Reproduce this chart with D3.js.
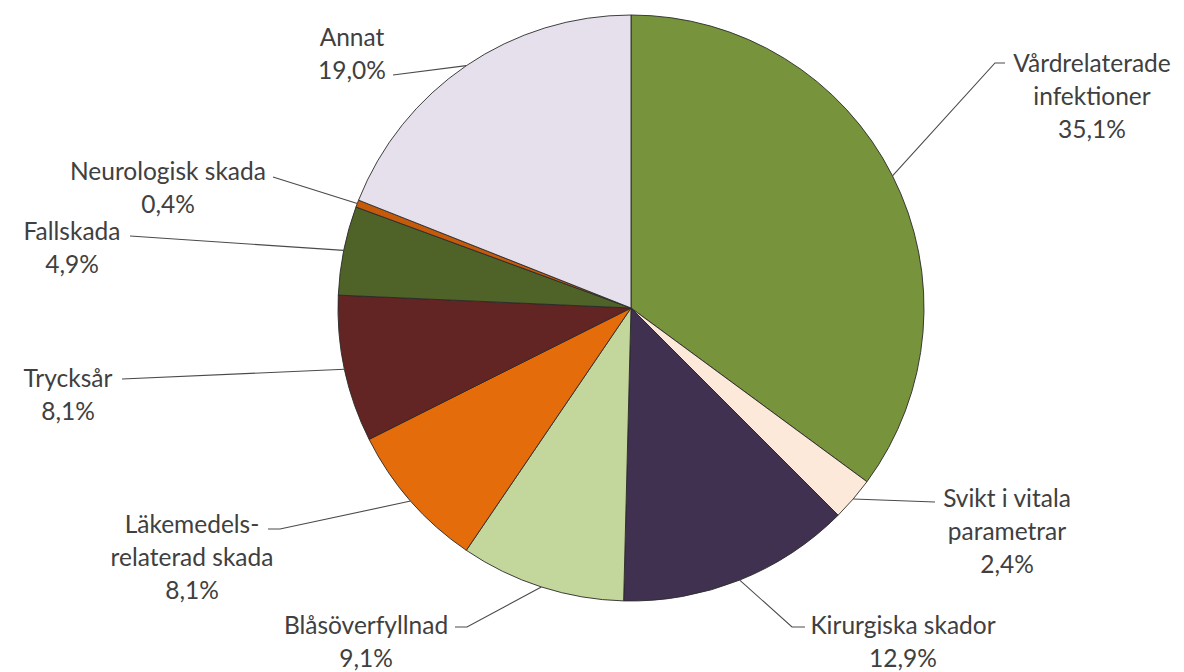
<!DOCTYPE html>
<html>
<head>
<meta charset="utf-8">
<script src="https://cdn.jsdelivr.net/npm/d3@7"></script>
<style>
  html, body { margin: 0; padding: 0; background: #fff; }
  svg text { font-family: Lato, "Open Sans", sans-serif; fill: #404040; }
</style>
</head>
<body>
<svg id="chart" width="1184" height="672"></svg>
<script>
// ---- data ----
const categories = [
  "Vårdrelaterade infektioner",
  "Svikt i vitala parametrar",
  "Kirurgiska skador",
  "Blåsöverfyllnad",
  "Läkemedelsrelaterad skada",
  "Trycksår",
  "Fallskada",
  "Neurologisk skada",
  "Annat"
];
const values = [35.1, 2.4, 12.9, 9.1, 8.1, 8.1, 4.9, 0.4, 19.0];
const labelLines = [
  ["Vårdrelaterade", "infektioner"],
  ["Svikt i vitala", "parametrar"],
  ["Kirurgiska skador"],
  ["Blåsöverfyllnad"],
  ["Läkemedels-", "relaterad skada"],
  ["Trycksår"],
  ["Fallskada"],
  ["Neurologisk skada"],
  ["Annat"]
];
const pctLabels = ["35,1%", "2,4%", "12,9%", "9,1%", "8,1%", "8,1%", "4,9%", "0,4%", "19,0%"];

// ---- styles / layout ----
const colors = ["#77933C", "#FDE9D9", "#403151", "#C3D69B", "#E46C0A", "#632523", "#4F6228", "#C65A0B", "#E6E0EC"];
// label layout: text centre x, first line centre y, leader elbow points
const labelLayout = [
  { x: 1092, y: 62, elbow: [[995, 63], [1005, 63]] },
  { x: 1007, y: 497, elbow: [[935, 502]] },
  { x: 903, y: 624, elbow: [[792, 627], [805, 627]] },
  { x: 366, y: 624, elbow: [[467, 627], [455, 627]] },
  { x: 192, y: 523, elbow: [[280, 529], [268, 529]] },
  { x: 68, y: 377, elbow: [[122, 379]] },
  { x: 72, y: 230, elbow: [[130, 236]] },
  { x: 168, y: 170, elbow: [[273, 177]] },
  { x: 352, y: 36, elbow: [[393, 75]] }
];
const lineH = 33;
const cx = 631, cy = 308, R = 293;

const svg = d3.select("#chart");
const g = svg.append("g").attr("transform", `translate(${cx},${cy})`);

const pie = d3.pie().sort(null).value(d => d)(values);
const arc = d3.arc().innerRadius(0).outerRadius(R);
const edgeArc = d3.arc().innerRadius(R).outerRadius(R);

g.selectAll("path.slice")
  .data(pie)
  .join("path")
  .attr("class", "slice")
  .attr("d", arc)
  .attr("fill", (d, i) => colors[i])
  .attr("stroke", "#2a2a2a")
  .attr("stroke-width", 0.9)
  .attr("stroke-linejoin", "round");

// leader lines
const lineGen = d3.line();
svg.append("g").selectAll("path.leader")
  .data(pie)
  .join("path")
  .attr("class", "leader")
  .attr("fill", "none")
  .attr("stroke", "#4a4a4a")
  .attr("stroke-width", 1.1)
  .attr("d", (d, i) => {
    const c = edgeArc.centroid(d);
    const pts = [[c[0] + cx, c[1] + cy], ...labelLayout[i].elbow];
    return lineGen(pts);
  });

// labels
const lab = svg.append("g").selectAll("text.lab")
  .data(pie)
  .join("text")
  .attr("class", "lab")
  .attr("text-anchor", "middle")
  .attr("font-size", 24.5)
  .attr("x", (d, i) => labelLayout[i].x)
  .attr("y", (d, i) => labelLayout[i].y);

lab.each(function(d, i) {
  const t = d3.select(this);
  const lines = [...labelLines[i], pctLabels[i]];
  lines.forEach((s, k) => {
    t.append("tspan")
      .attr("x", labelLayout[i].x)
      .attr("y", labelLayout[i].y + k * lineH)
      .attr("dominant-baseline", "central")
      .text(s);
  });
});
</script>
</body>
</html>
